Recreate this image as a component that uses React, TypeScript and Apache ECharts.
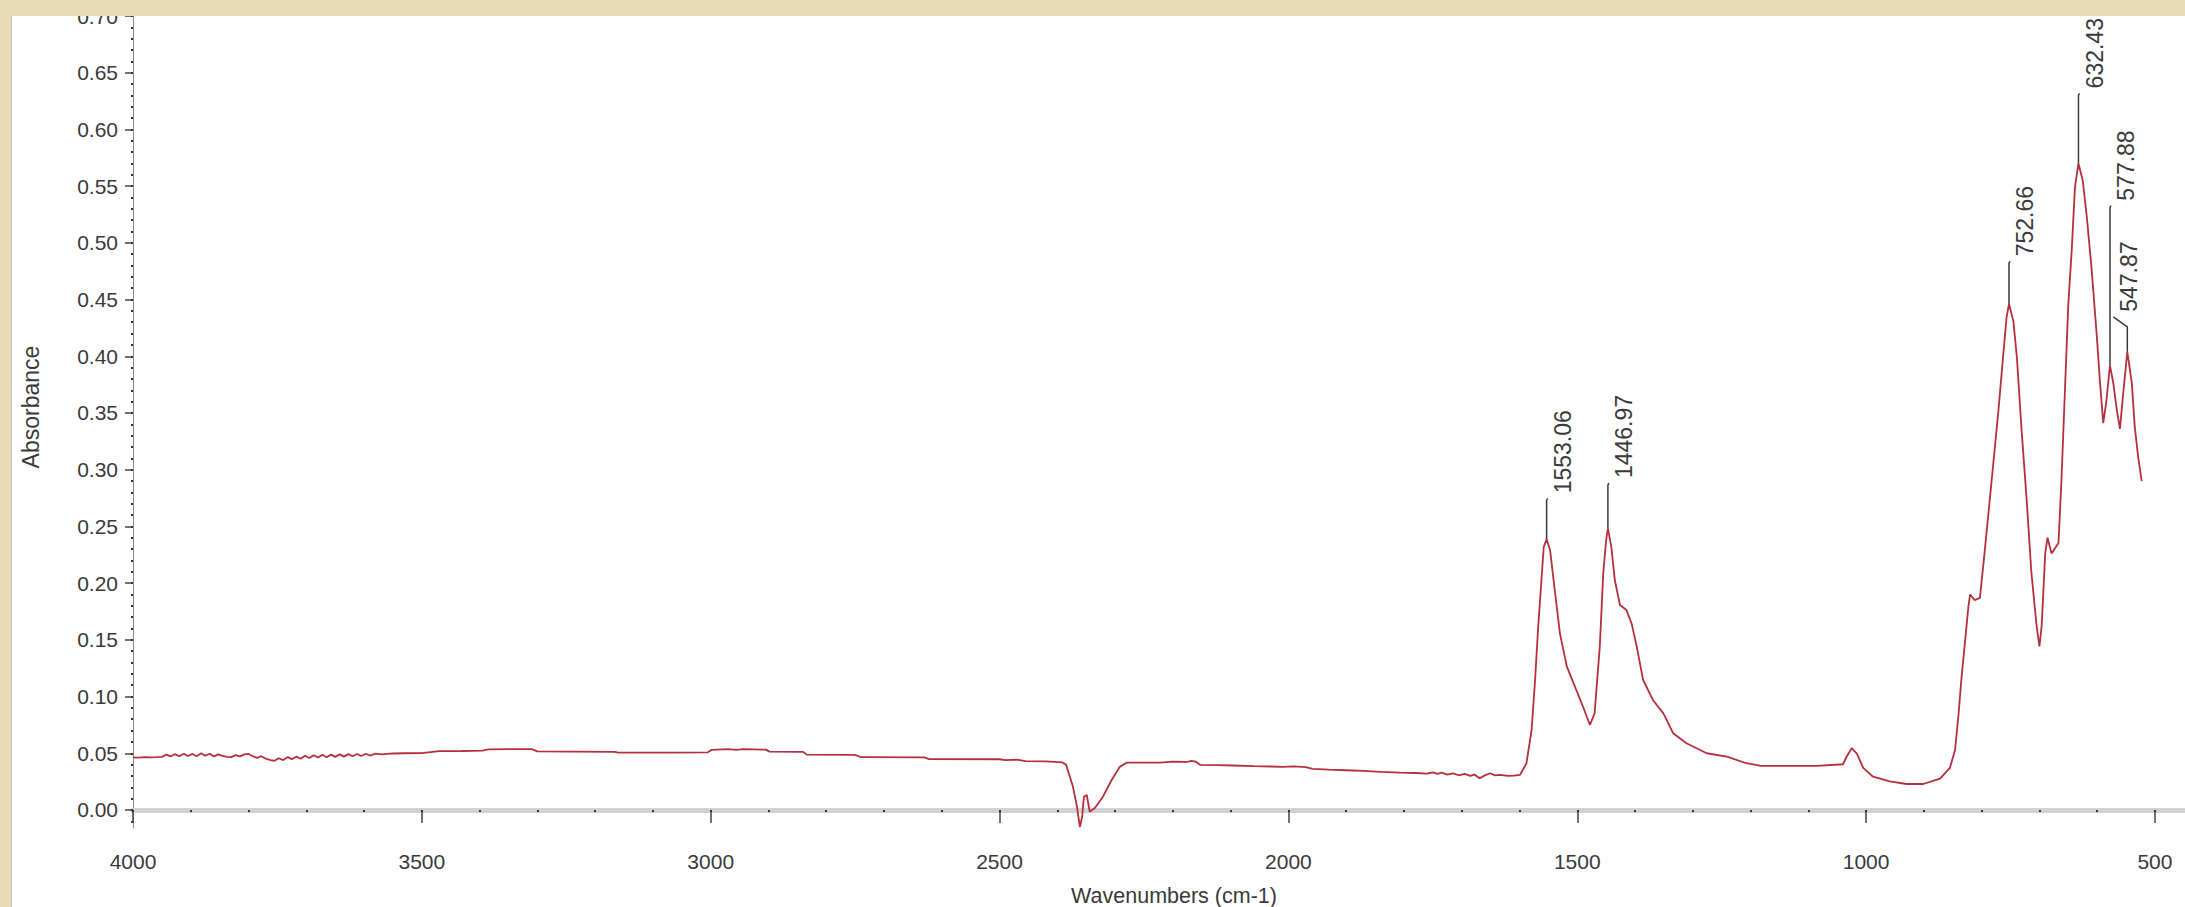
import React, { useEffect, useRef } from "react";
import * as echarts from "echarts";

// ---- spectrum (wavenumber cm-1, absorbance) ----
const spectrumWavenumbers = [
  4000, 3990, 3980, 3970, 3960, 3950, 3942, 3935, 3928, 3920, 3912, 3905, 3897, 3890, 3882, 3875,
  3867, 3860, 3852, 3845, 3837, 3830, 3822, 3815, 3807, 3800, 3792, 3785, 3778, 3770, 3762, 3755,
  3748, 3740, 3732, 3725, 3717, 3710, 3702, 3695, 3687, 3680, 3672, 3665, 3657, 3650, 3642, 3635,
  3627, 3620, 3612, 3605, 3597, 3590, 3580, 3570, 3560, 3550, 3530, 3500, 3470, 3430, 3395, 3385,
  3340, 3310, 3300, 3240, 3166, 3160, 3060, 3005, 2998, 2970, 2955, 2945, 2905, 2898, 2840, 2834,
  2750, 2740, 2630, 2622, 2500, 2490, 2470, 2455, 2420, 2405, 2392, 2385, 2380, 2373, 2366, 2361,
  2357, 2354, 2349, 2344, 2335, 2321, 2306, 2292, 2280, 2250, 2222, 2200, 2175, 2168, 2160, 2153,
  2120, 2096, 2060, 2030, 2010, 1990, 1970, 1958, 1930, 1900, 1870, 1840, 1807, 1780, 1760, 1750,
  1742, 1735, 1725, 1715, 1705, 1695, 1685, 1678, 1669, 1660, 1651, 1642, 1634, 1620, 1610, 1599,
  1588, 1579, 1573, 1568, 1562, 1558, 1553, 1547, 1539, 1530, 1518, 1504, 1490, 1478, 1470, 1461,
  1455, 1450, 1447, 1441, 1435, 1426, 1415, 1406, 1397, 1386, 1369, 1351, 1348, 1334, 1311, 1276,
  1241, 1207, 1184, 1143, 1086, 1040, 1034, 1025, 1016, 1005, 988, 959, 930, 901, 872, 855,
  846, 840, 835, 829, 823, 820, 812, 803, 797, 789, 780, 771, 763, 757, 752.66, 745,
  739, 731, 722, 714, 705, 700, 696, 690, 686, 679, 673, 667, 662, 656, 650, 644,
  638.5, 632.43, 625, 618, 610, 601, 595, 589.5, 584, 577.88, 572, 566, 560.6, 555, 547.87, 540,
  535, 529, 523,
];
const spectrumAbsorbance = [
  0.0464, 0.0462, 0.0466, 0.0463, 0.0465, 0.0468, 0.0488, 0.0472, 0.0492, 0.0474, 0.0496, 0.0476, 0.0494, 0.0474, 0.0500, 0.0478,
  0.0496, 0.0472, 0.0490, 0.0476, 0.0468, 0.0466, 0.0484, 0.0472, 0.0490, 0.0494, 0.0472, 0.0460, 0.0474, 0.0452, 0.0440, 0.0434,
  0.0456, 0.0440, 0.0466, 0.0448, 0.0472, 0.0452, 0.0478, 0.0458, 0.0482, 0.0462, 0.0486, 0.0464, 0.0488, 0.0468, 0.0490, 0.0470,
  0.0492, 0.0474, 0.0494, 0.0476, 0.0496, 0.0480, 0.0496, 0.0490, 0.0494, 0.0498, 0.05, 0.0502, 0.0518, 0.052, 0.0524, 0.0535,
  0.0537, 0.0537, 0.0516, 0.0514, 0.0512, 0.0505, 0.0505, 0.0508, 0.053, 0.0537, 0.053, 0.0537, 0.0532, 0.0514, 0.0512, 0.0488,
  0.0485, 0.0465, 0.0463, 0.0448, 0.0447, 0.044, 0.0444, 0.043, 0.0428, 0.0424, 0.042, 0.04, 0.032, 0.0206, 0.003, -0.015,
  -0.006, 0.0117, 0.0132, -0.0015, 0.0018, 0.0117, 0.0264, 0.038, 0.0417, 0.0418, 0.0418, 0.0426, 0.0424, 0.0432, 0.0425, 0.0398,
  0.0396, 0.0392, 0.0386, 0.0383, 0.038, 0.0384, 0.0378, 0.0362, 0.0355, 0.035, 0.0345, 0.0336, 0.033, 0.0326, 0.032, 0.0332,
  0.0318, 0.033, 0.0312, 0.0322, 0.0306, 0.0318, 0.03, 0.0312, 0.028, 0.0305, 0.0324, 0.0305, 0.031, 0.03, 0.0302, 0.031,
  0.041, 0.0705, 0.1146, 0.1586, 0.2027, 0.232, 0.2386, 0.229, 0.194, 0.1557, 0.1263, 0.1087, 0.091, 0.0749, 0.0852, 0.144,
  0.2086, 0.238, 0.2483, 0.232, 0.2027, 0.1807, 0.1763, 0.1645, 0.144, 0.1146, 0.097, 0.0852, 0.0823, 0.0676, 0.0588, 0.05,
  0.047, 0.0412, 0.039, 0.0388, 0.0388, 0.0403, 0.0467, 0.0545, 0.0497, 0.0371, 0.0293, 0.0252, 0.0229, 0.0229, 0.0277, 0.0371,
  0.0529, 0.0844, 0.1158, 0.1473, 0.179, 0.19, 0.185, 0.187, 0.2166, 0.2574, 0.3047, 0.352, 0.399, 0.4337, 0.4463, 0.4306,
  0.399, 0.336, 0.273, 0.21, 0.163, 0.1442, 0.163, 0.226, 0.24, 0.226, 0.2307, 0.2354, 0.289, 0.3676, 0.446, 0.494,
  0.549, 0.57, 0.555, 0.523, 0.479, 0.42, 0.376, 0.341, 0.361, 0.392, 0.376, 0.3525, 0.336, 0.367, 0.404, 0.376,
  0.338, 0.311, 0.29,
];

// ---- peak annotations ----
const peakWavenumbers = [1553.06, 1446.97, 752.66, 632.43, 577.88, 547.87];
const peakLabels = ["1553.06", "1446.97", "752.66", "632.43", "577.88", "547.87"];
const peakAbsorbance = [0.2386, 0.2483, 0.4463, 0.57, 0.392, 0.404];
const leaderTopAbsorbance = [0.273, 0.2864, 0.482, 0.63, 0.531, 0.426];

// ---- axes ----
const xMajorTicks = [4000, 3500, 3000, 2500, 2000, 1500, 1000, 500];
const xMinorTicks: number[] = [];
for (let v = 500; v <= 4000; v += 100) xMinorTicks.push(v);
const yMajorTicks: number[] = [];
for (let k = 0; k <= 14; k++) yMajorTicks.push(Math.round(k * 5) / 100);
const yMinorTicks: number[] = [];
for (let k = -1; k <= 70; k++) yMinorTicks.push(k / 100);

const X_MIN = 448;
const X_MAX = 4000;
const Y_MIN = -0.0159;
const Y_MAX = 0.7;

const FONT = "'Liberation Sans', Arial, sans-serif";
const TEXT = "#3a3a3a";

export default function App() {
  const ref = useRef<HTMLDivElement>(null);

  useEffect(() => {
    if (!ref.current) return;
    const chart = echarts.init(ref.current, null, { renderer: "svg" });
    const lineData = spectrumWavenumbers.map((w, i) => [w, spectrumAbsorbance[i]]);
    const peakData = peakWavenumbers.map((w, i) => [w, peakAbsorbance[i], leaderTopAbsorbance[i], i]);

    chart.setOption({
      animation: false,
      backgroundColor: "transparent",
      grid: { left: 133, right: 0, top: 16, bottom: 79, containLabel: false },
      xAxis: [
        {
          type: "value",
          inverse: true,
          min: X_MIN,
          max: X_MAX,
          position: "bottom",
          axisLine: { show: true, lineStyle: { color: "#4a4a4a", width: 1.5 } },
          axisTick: { show: true, customValues: xMajorTicks, length: 13, lineStyle: { color: "#444", width: 1.5 } },
          axisLabel: {
            show: true,
            customValues: xMajorTicks,
            margin: 23,
            fontSize: 21,
            color: TEXT,
            fontFamily: FONT,
            formatter: (v: number) => String(Math.round(v)),
          },
          splitLine: { show: false },
        },
        {
          type: "value",
          inverse: true,
          min: X_MIN,
          max: X_MAX,
          position: "bottom",
          offset: 5,
          axisLine: { show: true, lineStyle: { color: "#d2d2d2", width: 5 } },
          axisTick: { show: true, customValues: xMinorTicks, length: 2, lineStyle: { color: "#333", width: 2 } },
          axisLabel: { show: false },
          splitLine: { show: false },
        },
      ],
      yAxis: [
        {
          type: "value",
          min: Y_MIN,
          max: Y_MAX,
          position: "left",
          axisLine: { show: true, lineStyle: { color: "#8a8a8a", width: 1 } },
          axisTick: { show: true, customValues: yMajorTicks, length: 8, lineStyle: { color: "#444", width: 1.5 } },
          axisLabel: {
            show: true,
            customValues: yMajorTicks,
            margin: 15,
            fontSize: 21,
            color: TEXT,
            fontFamily: FONT,
            formatter: (v: number) => v.toFixed(2),
          },
          splitLine: { show: false },
        },
        {
          type: "value",
          min: Y_MIN,
          max: Y_MAX,
          position: "left",
          offset: 0,
          axisLine: { show: false },
          axisTick: { show: true, customValues: yMinorTicks, length: 2, lineStyle: { color: "#333", width: 2 } },
          axisLabel: { show: false },
          splitLine: { show: false },
        },
      ],
      series: [
        {
          type: "line",
          data: lineData,
          xAxisIndex: 0,
          yAxisIndex: 0,
          showSymbol: false,
          symbol: "none",
          smooth: false,
          lineStyle: { color: "#b5303c", width: 1.8 },
          z: 3,
        },
        {
          type: "custom",
          xAxisIndex: 0,
          yAxisIndex: 0,
          clip: false,
          z: 4,
          data: peakData,
          renderItem: (params: any, api: any) => {
            const w = api.value(0);
            const idx = api.value(3);
            const p0 = api.coord([w, api.value(1)]);
            const p1 = api.coord([w, api.value(2)]);
            let pts: number[][];
            let end: number[];
            if (idx === 5) {
              end = [p1[0] - 14, p1[1] - 10];
              pts = [p0, p1, end];
            } else {
              end = [p1[0] + 1, p1[1] - 2];
              pts = [p0, p1, end];
            }
            return {
              type: "group",
              children: [
                {
                  type: "polyline",
                  shape: { points: pts },
                  style: { stroke: "#3a3a3a", lineWidth: 1.5, fill: null },
                },
                {
                  type: "text",
                  x: end[0] + 4,
                  y: end[1] - 5,
                  rotation: Math.PI / 2,
                  style: {
                    text: peakLabels[idx],
                    fontSize: 23,
                    fontFamily: FONT,
                    fill: TEXT,
                    align: "left",
                    verticalAlign: "top",
                  },
                },
              ],
            };
          },
        },
      ],
      graphic: [
        {
          type: "text",
          x: 31,
          y: 407,
          rotation: Math.PI / 2,
          style: {
            text: "Absorbance",
            fontSize: 23,
            fontFamily: FONT,
            fill: TEXT,
            align: "center",
            verticalAlign: "middle",
          },
        },
        {
          type: "text",
          x: 1174,
          y: 896,
          style: {
            text: "Wavenumbers (cm-1)",
            fontSize: 21.5,
            fontFamily: FONT,
            fill: TEXT,
            align: "center",
            verticalAlign: "middle",
          },
        },
      ],
    });
    return () => chart.dispose();
  }, []);

  return (
    <div style={{ position: "absolute", left: 0, top: 0, width: 2185, height: 907, background: "#e9dab6", overflow: "hidden" }}>
      <div style={{ position: "absolute", left: 11, top: 16, width: 2174, height: 891, background: "#ffffff", borderLeft: "1.5px solid #c4c4c4", boxSizing: "border-box" }} />
      <div ref={ref} style={{ position: "absolute", left: 0, top: 0, width: 2185, height: 907 }} />
      <div style={{ position: "absolute", left: 0, top: 0, width: 2185, height: 16, background: "#e9dab6", pointerEvents: "none" }} />
    </div>
  );
}
